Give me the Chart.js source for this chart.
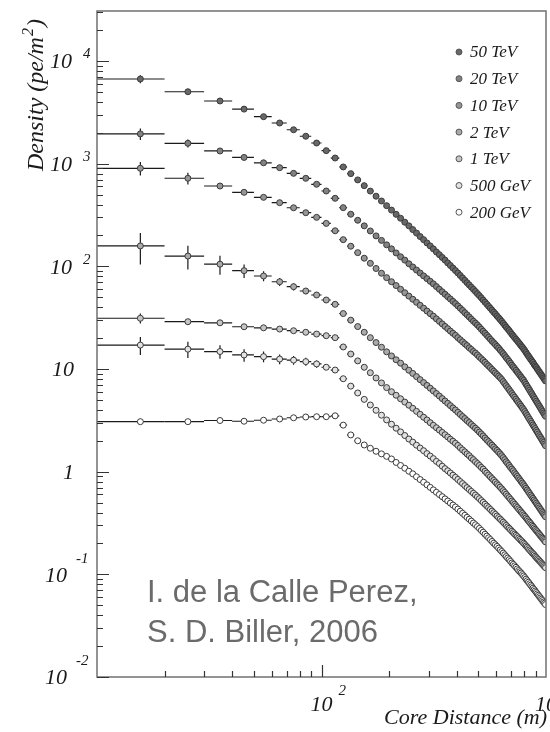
<!DOCTYPE html>
<html>
<head>
<meta charset="utf-8">
<script src="https://cdn.jsdelivr.net/npm/chart.js@4.4.0/dist/chart.umd.min.js"></script>
<style>
html,body{margin:0;padding:0;background:#fff;}
</style>
</head>
<body>
<canvas id="c" width="550" height="732"></canvas>
<script>
// core distance (m), one point per 10 m bin
const BIN = 10;
const coreDistance = [15.6,25.4,35.3,45.2,55.2,65.1,75.1,85.1,95.1,
  105,115,125,135,145,155,165,175,185,195,205,215,225,235,245,255,265,275,285,295,
  305,315,325,335,345,355,365,375,385,395,405,415,425,435,445,455,465,475,485,495,
  505,515,525,535,545,555,565,575,585,595,605,615,625,635,645,655,665,675,685,695,
  705,715,725,735,745,755,765,775,785,795,805,815,825,835,845,855,865,875,885,895,
  905,915,925,935,945,955,965,975,985,995];

// density (pe/m^2)
const density50TeV = [6680,5020,4080,3400,2870,2490,2140,1850,1590,1340,1135,
  929,800,695,611, 541,482,433,390, 353,321,294,269,248,
  228,211,195,182,169,158,148, 138,130,122,115,108,102,96.2,91.0,
  86.1,81.5,77.1,73.0,69.3,65.9,62.7,59.7,56.9,54.2,
  51.8,49.3,46.9,44.8,42.8,40.8,39.1,37.4,35.8,34.4,32.9,31.6,30.3,
  29.1,27.9,26.7,25.6,24.6,23.7,22.7,21.8,21.0,20.2,19.5,18.8,18.1,17.5,16.8,16.3,
  15.7,15.1,14.5,13.9,13.4,12.9,12.4,12.0,11.6,11.1,10.7,10.4,10.0,9.67,9.33,9.04,8.73,8.45,8.17,7.91,7.66];
const density20TeV = [1950,1580,1330,1150,1020,914,805,720,630,542,460,
  373,322,281,248, 221,198,179,162, 148,135,124,115,106,
  98.6,92.0,86.1,80.7,75.9,71.5,67.5, 63.5,59.8,56.5,53.5,50.6,48.1,45.6,43.4,
  41.2,39.1,37.2,35.3,33.7,32.1,30.6,29.2,28.0,26.8,
  25.6,24.4,23.3,22.3,21.3,20.4,19.5,18.7,18.0,17.3,16.6,16.0,15.3,
  14.7,14.1,13.5,12.9,12.4,11.9,11.4,10.9,10.5,10.1,9.70,9.34,8.99,8.66,8.35,8.04,
  7.76,7.41,7.09,6.79,6.50,6.23,5.97,5.73,5.49,5.27,5.07,4.86,4.68,4.50,4.33,4.17,4.01,3.86,3.72,3.59,3.46];
const density10TeV = [902,721,606,526,470,417,372,333,300,262,222,
  182,157,136,120, 107,95.3,85.7,77.6, 70.8,65.0,59.8,55.3,51.3,
  47.8,44.6,41.7,39.1,36.7,34.6,32.7, 30.8,29.1,27.5,26.0,24.7,23.4,22.3,21.3,
  20.2,19.3,18.4,17.6,16.9,16.1,15.5,14.8,14.3,13.7,
  13.1,12.6,12.1,11.6,11.1,10.7,10.3,9.88,9.51,9.16,8.83,8.52,8.22,
  7.90,7.54,7.20,6.88,6.58,6.30,6.03,5.77,5.53,5.31,5.09,4.89,4.70,4.52,4.35,4.18,
  4.02,3.85,3.68,3.52,3.37,3.23,3.10,2.97,2.85,2.74,2.63,2.52,2.43,2.33,2.24,2.16,2.08,2.00,1.93,1.86,1.79];
const density2TeV = [158,126,105,90.8,80.5,70.8,63.4,57.5,52.6,47.0,42.7,
  34.7,29.9,25.9,22.8, 20.2,18.1,16.3,14.7, 13.4,12.3,11.4,10.5,9.73,
  9.06,8.43,7.88,7.37,6.92,6.50,6.12, 5.77,5.45,5.15,4.88,4.63,4.40,4.18,3.99,
  3.79,3.61,3.44,3.29,3.14,3.01,2.88,2.76,2.65,2.54,
  2.43,2.33,2.23,2.13,2.04,1.96,1.88,1.81,1.74,1.67,1.61,1.55,1.49,
  1.43,1.37,1.31,1.25,1.20,1.15,1.10,1.06,1.02,0.975,0.937,0.901,0.867,0.834,0.803,0.774,
  0.746,0.717,0.689,0.663,0.638,0.614,0.591,0.570,0.549,0.530,0.511,0.493,0.476,0.460,0.444,0.429,0.415,0.401,0.388,0.376,0.364];
const density1TeV = [31.2,28.9,28.2,25.8,25.2,24.5,23.6,22.8,21.9,21.1,20.2,
  16.4,14.0,12.0,10.4, 9.20,8.18,7.32,6.59, 6.01,5.55,5.13,4.76,4.44,
  4.14,3.87,3.62,3.39,3.19,3.00,2.83, 2.68,2.54,2.41,2.29,2.18,2.07,1.98,1.89,
  1.80,1.71,1.63,1.56,1.49,1.43,1.36,1.31,1.25,1.20,
  1.15,1.10,1.06,1.01,0.969,0.929,0.892,0.856,0.823,0.792,0.762,0.734,0.707,
  0.680,0.653,0.628,0.603,0.580,0.559,0.538,0.518,0.500,0.482,0.465,0.449,0.434,0.419,0.405,0.392,
  0.379,0.367,0.355,0.343,0.332,0.322,0.312,0.302,0.293,0.284,0.275,0.267,0.260,0.252,0.245,0.238,0.231,0.225,0.219,0.213,0.207];
const density500GeV = [17.1,15.6,14.8,13.7,13.2,12.5,12.2,11.8,11.2,10.4,9.77,
  8.04,6.81,5.84,5.06, 4.46,3.96,3.55,3.19, 2.90,2.65,2.44,2.25,2.08,
  1.94,1.81,1.70,1.60,1.50,1.42,1.34, 1.26,1.20,1.13,1.07,1.02,0.971,0.924,0.882,
  0.840,0.801,0.765,0.731,0.699,0.670,0.642,0.616,0.592,0.568,
  0.546,0.523,0.502,0.482,0.463,0.446,0.429,0.413,0.398,0.384,0.370,0.357,0.345,
  0.333,0.322,0.311,0.300,0.290,0.281,0.272,0.263,0.255,0.247,0.240,0.233,0.226,0.219,0.213,0.207,
  0.201,0.195,0.189,0.184,0.178,0.173,0.168,0.163,0.159,0.155,0.150,0.146,0.142,0.139,0.135,0.132,0.128,0.125,0.122,0.119,0.116];
const density200GeV = [3.07,3.07,3.15,3.10,3.17,3.26,3.35,3.41,3.43,3.43,3.50,
  2.84,2.28,2.00,1.82, 1.69,1.58,1.49,1.41, 1.33,1.23,1.15,1.08,1.01,
  0.953,0.892,0.838,0.789,0.744,0.703,0.665, 0.630,0.599,0.570,0.543,0.518,0.494,0.473,0.453,
  0.432,0.412,0.393,0.376,0.359,0.344,0.330,0.316,0.304,0.292,
  0.280,0.268,0.257,0.246,0.236,0.227,0.218,0.209,0.201,0.194,0.187,0.180,0.173,
  0.167,0.161,0.155,0.149,0.144,0.139,0.134,0.129,0.125,0.121,0.117,0.113,0.109,0.106,0.103,0.0994,
  0.0964,0.0930,0.0898,0.0867,0.0838,0.0810,0.0783,0.0758,0.0733,0.0710,0.0688,0.0666,0.0646,0.0626,0.0607,0.0589,0.0571,0.0555,0.0538,0.0523,0.0508];

// relative errors, first bins only (the rest hide under the markers)
const relErr50TeV  = [0.09,0.05,0.03,0.02,0.02,0.02,0.01,0.01,0.01,0.01,0.01];
const relErr20TeV  = [0.13,0.09,0.05,0.04,0.03,0.03,0.02,0.02,0.02,0.02,0.02];
const relErr10TeV  = [0.15,0.13,0.05,0.04,0.03,0.03,0.02,0.02,0.02,0.02,0.02];
const relErr2TeV   = [0.34,0.26,0.21,0.15,0.11,0.09,0.08,0.07,0.06,0.05,0.05];
const relErr1TeV   = [0.11,0.06,0.04,0.04,0.03,0.03,0.03,0.03,0.03,0.02,0.02];
const relErr500GeV = [0.20,0.18,0.15,0.14,0.12,0.11,0.10,0.09,0.08,0.06,0.05];
const relErr200GeV = [0.03,0.03,0.03,0.03,0.03,0.03,0.02,0.02,0.02,0.02,0.02];

// axis labels
const yTickValues = [0.01,0.1,1,10,100,1000,10000];
const yTickBase   = ["10","10","1","10","10","10","10"];
const yTickExp    = ["-2","-1","","","2","3","4"];
const xTickValues = [100,1000];
const xTickExp    = ["2","3"];

const series = [
  {label:"50 TeV",  values:density50TeV,  err:relErr50TeV,  fill:"#686868"},
  {label:"20 TeV",  values:density20TeV,  err:relErr20TeV,  fill:"#828282"},
  {label:"10 TeV",  values:density10TeV,  err:relErr10TeV,  fill:"#969696"},
  {label:"2 TeV",   values:density2TeV,   err:relErr2TeV,   fill:"#aaaaaa"},
  {label:"1 TeV",   values:density1TeV,   err:relErr1TeV,   fill:"#c6c6c6"},
  {label:"500 GeV", values:density500GeV, err:relErr500GeV, fill:"#e2e2e2"},
  {label:"200 GeV", values:density200GeV, err:relErr200GeV, fill:"#ffffff"}
];

const SERIF = '"Liberation Serif","Times New Roman",serif';

// error bars under the markers
const errorBars = {
  id:'errorBars',
  beforeDatasetsDraw(chart){
    const ctx = chart.ctx, xs = chart.scales.x, ys = chart.scales.y;
    ctx.save();
    ctx.strokeStyle = '#1a1a1a';
    ctx.lineWidth = 1.2;
    series.forEach(s=>{
      s.values.forEach((v,i)=>{
        const x = coreDistance[i], lo = Math.floor(x/BIN)*BIN;
        const px = xs.getPixelForValue(x), py = ys.getPixelForValue(v);
        ctx.beginPath();
        ctx.moveTo(xs.getPixelForValue(lo), py);
        ctx.lineTo(xs.getPixelForValue(lo+BIN), py);
        const e = s.err[i];
        if(e){
          ctx.moveTo(px, ys.getPixelForValue(v*(1+e)));
          ctx.lineTo(px, ys.getPixelForValue(v*(1-e)));
        }
        ctx.stroke();
      });
    });
    ctx.restore();
  }
};

// ROOT-like frame, inner ticks, labels, legend, credit
const decor = {
  id:'decor',
  afterDraw(chart){
    const ctx = chart.ctx, a = chart.chartArea, xs = chart.scales.x, ys = chart.scales.y;
    ctx.save();

    // frame
    ctx.strokeStyle = '#707070';
    ctx.lineWidth = 1.5;
    ctx.strokeRect(a.left, a.top, a.right-a.left, a.bottom-a.top);

    // ticks
    ctx.strokeStyle = '#333';
    ctx.lineWidth = 1.2;
    ctx.beginPath();
    for(let k=-2;k<=4;k++){
      for(let m=1;m<=9;m++){
        const v = m*Math.pow(10,k);
        if(v>ys.max) continue;
        const py = Math.round(ys.getPixelForValue(v))+0.5;
        ctx.moveTo(a.left, py);
        ctx.lineTo(a.left+(m==1?12:6), py);
      }
    }
    for(let k=1;k<=2;k++){
      for(let m=1;m<=9;m++){
        const v = m*Math.pow(10,k);
        if(v<=xs.min) continue;
        const px = Math.round(xs.getPixelForValue(v))+0.5;
        ctx.moveTo(px, a.bottom);
        ctx.lineTo(px, a.bottom-(m==1?12:6));
      }
    }
    ctx.stroke();

    // y tick labels
    ctx.fillStyle = '#1a1a1a';
    ctx.textBaseline = 'middle';
    yTickValues.forEach((v,i)=>{
      const py = ys.getPixelForValue(v)+1.5;
      const exp = yTickExp[i], neg = exp.charAt(0)=='-';
      ctx.font = 'italic 22px '+SERIF;
      ctx.textAlign = 'right';
      const right = exp ? (neg?67:72) : 74;
      ctx.fillText(yTickBase[i], right, py);
      if(exp){
        ctx.font = 'italic 15px '+SERIF;
        ctx.textAlign = 'left';
        ctx.fillText(exp, neg?76:83, py-(neg?17:8));
      }
    });

    // x tick labels
    xTickValues.forEach((v,i)=>{
      const px = xs.getPixelForValue(v);
      ctx.font = 'italic 22px '+SERIF;
      ctx.textAlign = 'center';
      ctx.fillText("10", px, 705);
      const w = ctx.measureText("10").width;
      ctx.font = 'italic 15px '+SERIF;
      ctx.textAlign = 'left';
      ctx.fillText(xTickExp[i], px+w/2+6, 691);
    });

    // axis titles
    ctx.textBaseline = 'alphabetic';
    ctx.textAlign = 'right';
    ctx.font = 'italic 22px '+SERIF;
    ctx.fillText("Core Distance (m)", 547, 724);

    ctx.save();
    ctx.translate(43, 171);
    ctx.rotate(-Math.PI/2);
    ctx.textAlign = 'left';
    ctx.font = 'italic 24px '+SERIF;
    const t1 = "Density (pe/m";
    ctx.fillText(t1, 0, 0);
    let w = ctx.measureText(t1).width + 1;
    ctx.font = 'italic 16px '+SERIF;
    ctx.fillText("2", w, -10);
    w += ctx.measureText("2").width + 1;
    ctx.font = 'italic 24px '+SERIF;
    ctx.fillText(")", w, 0);
    ctx.restore();

    // legend
    ctx.textBaseline = 'middle';
    ctx.textAlign = 'left';
    ctx.font = 'italic 17px '+SERIF;
    series.forEach((s,i)=>{
      const cy = 52 + i*26.7;
      ctx.beginPath();
      ctx.arc(459, cy, 3, 0, Math.PI*2);
      ctx.fillStyle = s.fill;
      ctx.fill();
      ctx.strokeStyle = '#555';
      ctx.lineWidth = 1;
      ctx.stroke();
      ctx.fillStyle = '#1a1a1a';
      ctx.fillText(s.label, 470, cy+1);
    });

    // credit
    ctx.textBaseline = 'alphabetic';
    ctx.fillStyle = '#6b6b6b';
    ctx.font = '31px "Liberation Sans",Arial,sans-serif';
    ctx.fillText("I. de la Calle Perez,", 147, 602);
    ctx.fillText("S. D. Biller, 2006", 147, 642);

    ctx.restore();
  }
};

new Chart(document.getElementById('c'), {
  type:'scatter',
  data:{
    datasets: series.map(s=>({
      label:s.label,
      data:coreDistance.map((x,i)=>({x:x, y:s.values[i]})),
      pointRadius:3,
      pointHoverRadius:3,
      pointBorderWidth:1,
      pointBorderColor:'#3a3a3a',
      pointBackgroundColor:s.fill,
      showLine:false
    }))
  },
  options:{
    responsive:false,
    animation:false,
    events:[],
    layout:{padding:{left:97, right:2, top:11, bottom:55}},
    plugins:{legend:{display:false}, tooltip:{enabled:false}},
    scales:{
      x:{type:'logarithmic', min:10, max:1000, display:false},
      y:{type:'logarithmic', min:0.01, max:30700, display:false}
    }
  },
  plugins:[errorBars, decor]
});
</script>
</body>
</html>
